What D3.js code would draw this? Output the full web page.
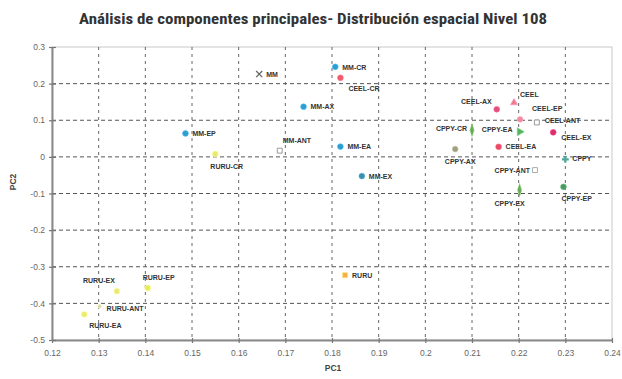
<!DOCTYPE html>
<html>
<head>
<meta charset="utf-8">
<script src="https://cdn.jsdelivr.net/npm/d3@7"></script>
<style>
  html, body { margin: 0; padding: 0; background: #fff; }
  svg { display: block; }
</style>
</head>
<body>
<svg id="chart" width="622" height="379"></svg>
<script>
// ---- data ----
const pointNames = ["MM-CR","CEEL-CR","MM","MM-AX","MM-EP","RURU-CR","MM-ANT","MM-EA","MM-EX",
  "CEEL-AX","CEEL","CEEL-EP","CEEL-ANT","CEEL-EX","CPPY-CR","CPPY-EA","CEEL-EA","CPPY-AX",
  "CPPY","CPPY-ANT","CPPY-EX","CPPY-EP","RURU","RURU-EX","RURU-EP","RURU-ANT","RURU-EA"];
const pc1Values = [0.1807,0.1818,0.1644,0.1739,0.1486,0.1550,0.1688,0.1818,0.1864,
  0.2153,0.2190,0.2203,0.2239,0.2274,0.2100,0.2202,0.2157,0.2064,
  0.2300,0.2235,0.2202,0.2296,0.1828,0.1339,0.1405,0.1302,0.1269];
const pc2Values = [0.246,0.216,0.226,0.137,0.064,0.008,0.017,0.028,-0.0525,
  0.130,0.148,0.1025,0.094,0.067,0.073,0.0686,0.0276,0.0213,
  -0.007,-0.036,-0.0907,-0.0817,-0.323,-0.3667,-0.3577,-0.408,-0.430];
const xTicks = [0.12,0.13,0.14,0.15,0.16,0.17,0.18,0.19,0.2,0.21,0.22,0.23,0.24];
const yTicks = [0.3,0.2,0.1,0,-0.1,-0.2,-0.3,-0.4,-0.5];
const xTickLabels = ["0.12","0.13","0.14","0.15","0.16","0.17","0.18","0.19","0.2","0.21","0.22","0.23","0.24"];
const yTickLabels = ["0.3","0.2","0.1","0","-0.1","-0.2","-0.3","-0.4","-0.5"];
const titleText = "Análisis de componentes principales- Distribución espacial Nivel 108";

// ---- presentation (marker style + label placement) ----
const markerStyle = {
  "MM-CR":["circle","#2f9ccc"], "MM-AX":["circle","#2f9ccc"], "MM-EP":["circle","#2f9ccc"],
  "MM-EA":["circle","#2f9ccc"], "MM-EX":["circle","#3a8fb0"],
  "MM":["x","#666"],
  "MM-ANT":["open","#999"], "CEEL-ANT":["open","#999"], "CPPY-ANT":["open","#aaa"],
  "CEEL-CR":["circle","#f05a6a"], "CEEL-AX":["circle","#e0507a"], "CEEL":["tri","#f07890"],
  "CEEL-EP":["circle","#f08aa0"], "CEEL-EX":["circle","#d8306a"], "CEEL-EA":["circle","#ea4a64"],
  "CPPY-CR":["vdiamond","#6aaa5a"], "CPPY-EA":["triR","#58b060"], "CPPY-EX":["vdiamond","#6aaa5a"],
  "CPPY-EP":["circle","#4a9a60"], "CPPY":["plus","#50a898"], "CPPY-AX":["circle","#a0a080"],
  "RURU-CR":["circle","#e8ea70"], "RURU-EX":["circle","#e6ea78"], "RURU-EP":["circle","#e6ea60"],
  "RURU-ANT":["small","#d8d8a0"], "RURU-EA":["circle","#e8ec70"], "RURU":["square","#f4b048"]
};
// [anchor, dx, dy]
const labelPlace = {
  "MM-CR":["start",7,1], "CEEL-CR":["start",8,11], "MM":["start",7,0], "MM-AX":["start",7,0],
  "MM-EP":["start",7,0], "RURU-CR":["start",-5,13], "MM-ANT":["start",3,-10], "MM-EA":["start",7,0],
  "MM-EX":["start",7,0], "CEEL-AX":["end",-5,-8], "CEEL":["start",6,-8], "CEEL-EP":["start",12,-11],
  "CEEL-ANT":["start",8,-2], "CEEL-EX":["start",8,5], "CPPY-CR":["end",-5,-2], "CPPY-EA":["end",-7,-2],
  "CEEL-EA":["start",7,0], "CPPY-AX":["middle",5,12], "CPPY":["start",7,-1], "CPPY-ANT":["end",-5,0],
  "CPPY-EX":["middle",-10,13], "CPPY-EP":["start",-2,12], "RURU":["start",7,0], "RURU-EX":["end",-2,-11],
  "RURU-EP":["start",-5,-10], "RURU-ANT":["start",7,2], "RURU-EA":["start",5,11]
};

const svg = d3.select("#chart");
const L = 52, R = 612, T = 47, B = 340;
const x = d3.scaleLinear().domain([0.12, 0.24]).range([L, R]);
const y = d3.scaleLinear().domain([-0.5, 0.3]).range([B, T]);

// title
svg.append("text").attr("x", 313).attr("y", 24).attr("text-anchor", "middle")
  .attr("font-family", "'Liberation Sans Narrow','Roboto Condensed','Liberation Sans',Arial,sans-serif")
  .attr("font-weight", "bold").attr("font-size", 14).attr("fill", "#333")
  .attr("textLength", 468).attr("lengthAdjust", "spacingAndGlyphs")
  .text(titleText);

// plot border
svg.append("rect").attr("x", L).attr("y", T).attr("width", R - L).attr("height", B - T)
  .attr("fill", "#fff").attr("stroke", "#c8c8c8").attr("stroke-width", 1);

// grid
const g = svg.append("g");
g.selectAll(".hg").data(yTicks.filter(v => v < 0.3 && v > -0.5)).enter().append("line")
  .attr("x1", L).attr("x2", R).attr("y1", d => y(d)).attr("y2", d => y(d))
  .attr("stroke", "#555").attr("stroke-width", 1).attr("stroke-dasharray", "4,3");
g.selectAll(".vg").data(xTicks.filter(v => v > 0.12 && v < 0.24)).enter().append("line")
  .attr("y1", T).attr("y2", B).attr("x1", d => x(d)).attr("x2", d => x(d))
  .attr("stroke", "#666").attr("stroke-width", 1).attr("stroke-dasharray", "3,4");

// axes
const xAxis = d3.axisBottom(x).tickValues(xTicks).tickFormat((d, i) => xTickLabels[i]).tickSizeInner(4).tickSizeOuter(0).tickPadding(6);
const yAxis = d3.axisLeft(y).tickValues(yTicks).tickFormat((d, i) => yTickLabels[i]).tickSizeInner(4).tickSizeOuter(0).tickPadding(3);
const gx = svg.append("g").attr("transform", `translate(0,${B})`).call(xAxis);
const gy = svg.append("g").attr("transform", `translate(${L},0)`).call(yAxis);
[gx, gy].forEach(a => {
  a.select(".domain").attr("stroke", "#8a8a8a").attr("stroke-width", 2);
  a.selectAll(".tick line").attr("stroke", "#777").attr("stroke-width", 1.2);
  a.selectAll(".tick text").attr("fill", "#666").attr("font-size", 8.5)
    .attr("font-family", "'Liberation Sans',Arial,sans-serif");
});
gy.selectAll(".tick line").attr("x2", 4).attr("x1", -3);
gx.selectAll(".tick line").attr("y1", -2).attr("y2", 3);

// axis titles
svg.append("text").attr("x", 333).attr("y", 371).attr("text-anchor", "middle")
  .attr("font-family", "'Liberation Sans',Arial,sans-serif").attr("font-weight", "bold")
  .attr("font-size", 8.5).attr("fill", "#444").text("PC1");
svg.append("text").attr("transform", "translate(16,182) rotate(-90)").attr("text-anchor", "middle")
  .attr("font-family", "'Liberation Sans',Arial,sans-serif").attr("font-weight", "bold")
  .attr("font-size", 8.5).attr("fill", "#444").text("PC2");

// points
const pts = pointNames.map((n, i) => ({ name: n, px: pc1Values[i], py: pc2Values[i] }));
const shapes = {
  circle: d3.symbol().type(d3.symbolCircle).size(26)(),
  square: d3.symbol().type(d3.symbolSquare).size(24)(),
  open: d3.symbol().type(d3.symbolSquare).size(24)(),
  small: d3.symbol().type(d3.symbolCircle).size(12)(),
  tri: d3.symbol().type(d3.symbolTriangle).size(22)(),
  x: d3.symbol().type(d3.symbolX).size(26)(),
  plus: d3.symbol().type(d3.symbolCross).size(26)(),
  vdiamond: d3.symbol().type(d3.symbolDiamond).size(30)(),
  triR: d3.symbol().type(d3.symbolTriangle).size(28)()
};
const mg = svg.append("g");
pts.forEach(p => {
  const [shape, color] = markerStyle[p.name];
  const cx = x(p.px), cy = y(p.py);
  let tr = `translate(${cx},${cy})`;
  if (shape === "vdiamond") tr += " scale(0.7,1.3)";
  if (shape === "triR") tr += " rotate(90)";
  const path = mg.append("path").attr("d", shapes[shape]).attr("transform", tr);
  if (shape === "open") {
    path.attr("fill", "#fff").attr("stroke", color).attr("stroke-width", 1);
  } else if (shape === "x") {
    path.attr("fill", "none").attr("stroke", color).attr("stroke-width", 1.3);
  } else if (shape === "plus") {
    path.attr("fill", color);
  } else {
    path.attr("fill", color).attr("stroke", d3.color(color).brighter(0.6)).attr("stroke-width", 1).attr("stroke-opacity", 0.6);
  }
});

// point labels
const lg = svg.append("g");
pts.forEach(p => {
  const [anchor, dx, dy] = labelPlace[p.name];
  lg.append("text").attr("x", x(p.px) + dx).attr("y", y(p.py) + dy)
    .attr("text-anchor", anchor).attr("dominant-baseline", "central")
    .attr("font-family", "'Liberation Sans',Arial,sans-serif").attr("font-weight", "bold")
    .attr("font-size", 7).attr("fill", "#333").text(p.name);
});
</script>
</body>
</html>
